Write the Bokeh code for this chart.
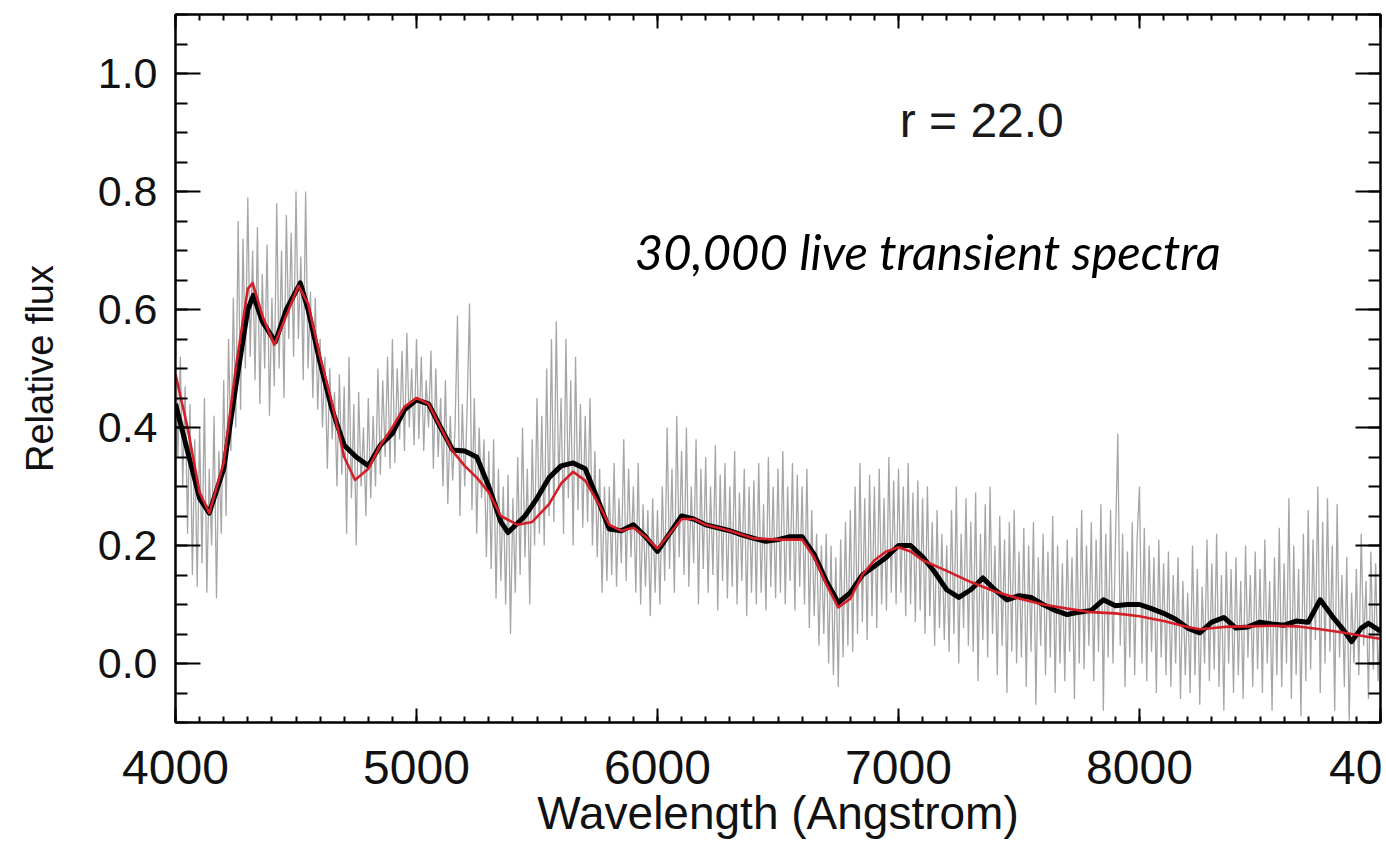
import numpy as np
from bokeh.plotting import figure
from bokeh.models import Range1d, LinearAxis, FixedTicker, Label, PrintfTickFormatter
from bokeh.embed import file_html
from bokeh.resources import INLINE

# ---- data -------------------------------------------------------------
# observed (noisy) spectrum, sampled every 10 Angstrom from 4000 to 9000
gray_start, gray_step = 4000, 10
gray_flux = [
    0.58, 0.35, 0.52, 0.30, 0.47, 0.22, 0.44, 0.15, 0.38, 0.13,   # 4000
    0.40, 0.17, 0.45, 0.12, 0.33, 0.20, 0.42, 0.11, 0.36, 0.22,   # 4100
    0.48, 0.25, 0.55, 0.36, 0.62, 0.40, 0.75, 0.43, 0.72, 0.50,   # 4200
    0.79, 0.52, 0.70, 0.48, 0.74, 0.44, 0.66, 0.50, 0.71, 0.42,   # 4300
    0.62, 0.47, 0.78, 0.50, 0.70, 0.45, 0.76, 0.55, 0.73, 0.52,   # 4400
    0.80, 0.55, 0.69, 0.48, 0.80, 0.50, 0.63, 0.45, 0.62, 0.43,   # 4500
    0.55, 0.40, 0.52, 0.33, 0.50, 0.38, 0.46, 0.30, 0.49, 0.32,   # 4600
    0.47, 0.22, 0.52, 0.28, 0.44, 0.20, 0.46, 0.30, 0.40, 0.25,   # 4700
    0.45, 0.28, 0.42, 0.30, 0.50, 0.32, 0.48, 0.35, 0.52, 0.33,   # 4800
    0.55, 0.34, 0.50, 0.38, 0.53, 0.36, 0.56, 0.40, 0.50, 0.37,   # 4900
    0.55, 0.38, 0.52, 0.36, 0.48, 0.40, 0.53, 0.33, 0.50, 0.35,   # 5000
    0.45, 0.30, 0.48, 0.27, 0.42, 0.31, 0.40, 0.59, 0.25, 0.44,   # 5100
    0.30, 0.43, 0.61, 0.26, 0.45, 0.22, 0.40, 0.28, 0.38, 0.18,   # 5200
    0.36, 0.16, 0.38, 0.11, 0.33, 0.14, 0.30, 0.10, 0.32, 0.05,   # 5300
    0.28, 0.12, 0.35, 0.15, 0.40, 0.18, 0.33, 0.10, 0.38, 0.20,   # 5400
    0.45, 0.22, 0.42, 0.20, 0.50, 0.25, 0.55, 0.24, 0.58, 0.30,   # 5500
    0.45, 0.22, 0.55, 0.28, 0.48, 0.20, 0.52, 0.26, 0.44, 0.23,   # 5600
    0.42, 0.24, 0.45, 0.20, 0.36, 0.18, 0.33, 0.12, 0.30, 0.14,   # 5700
    0.30, 0.15, 0.34, 0.13, 0.28, 0.17, 0.38, 0.14, 0.33, 0.18,   # 5800
    0.30, 0.12, 0.34, 0.10, 0.27, 0.13, 0.26, 0.08, 0.28, 0.12,   # 5900
    0.26, 0.10, 0.30, 0.14, 0.40, 0.16, 0.33, 0.12, 0.42, 0.18,   # 6000
    0.36, 0.15, 0.40, 0.13, 0.30, 0.17, 0.38, 0.10, 0.33, 0.16,   # 6100
    0.35, 0.12, 0.30, 0.15, 0.37, 0.09, 0.32, 0.14, 0.34, 0.11,   # 6200
    0.30, 0.13, 0.36, 0.10, 0.29, 0.14, 0.33, 0.08, 0.30, 0.12,   # 6300
    0.31, 0.10, 0.34, 0.12, 0.27, 0.09, 0.35, 0.13, 0.30, 0.11,   # 6400
    0.33, 0.12, 0.36, 0.10, 0.30, 0.14, 0.34, 0.09, 0.32, 0.13,   # 6500
    0.30, 0.10, 0.33, 0.06, 0.26, 0.08, 0.22, 0.03, 0.20, 0.05,   # 6600
    0.22, 0.00, 0.20, -0.02, 0.18, -0.04, 0.21, 0.01, 0.24, 0.03, # 6700
    0.26, 0.02, 0.30, 0.05, 0.34, 0.07, 0.28, 0.04, 0.32, 0.08,   # 6800
    0.30, 0.06, 0.33, 0.10, 0.28, 0.09, 0.35, 0.12, 0.31, 0.10,   # 6900
    0.33, 0.12, 0.30, 0.08, 0.34, 0.10, 0.29, 0.07, 0.31, 0.09,   # 7000
    0.28, 0.05, 0.30, 0.08, 0.24, 0.03, 0.26, 0.06, 0.22, 0.04,   # 7100
    0.20, 0.02, 0.26, 0.05, 0.30, 0.00, 0.22, 0.06, 0.28, 0.03,   # 7200
    0.24, 0.02, 0.29, -0.03, 0.22, 0.04, 0.27, 0.01, 0.30, 0.05,  # 7300
    0.20, -0.02, 0.25, 0.03, 0.21, -0.05, 0.24, 0.02, 0.26, 0.00, # 7400
    0.19, 0.01, 0.23, -0.04, 0.20, 0.02, 0.24, -0.07, 0.18, 0.03, # 7500
    0.22, -0.02, 0.19, 0.01, 0.25, -0.05, 0.20, 0.00, 0.17, -0.03,  # 7600
    0.21, 0.02, 0.18, -0.06, 0.23, 0.00, 0.26, -0.01, 0.20, 0.03,   # 7700
    0.24, -0.03, 0.21, 0.02, 0.27, -0.08, 0.22, 0.01, 0.26, 0.00,   # 7800
    0.20, 0.39, 0.03, 0.22, -0.04, 0.19, 0.01, 0.24, -0.02, 0.21,   # 7900
    0.30, 0.00, 0.23, -0.03, 0.20, 0.02, 0.18, -0.05, 0.21, 0.01,   # 8000
    0.17, -0.02, 0.19, -0.04, 0.15, 0.00, 0.18, -0.06, 0.14, -0.02, # 8100
    0.12, -0.05, 0.20, -0.02, 0.16, -0.07, 0.13, 0.00, 0.21, -0.03, # 8200
    0.17, -0.01, 0.22, -0.04, 0.15, -0.08, 0.19, 0.00, 0.16, -0.05, # 8300
    0.18, -0.02, 0.14, -0.06, 0.20, 0.01, 0.15, -0.04, 0.19, -0.01, # 8400
    0.16, -0.05, 0.21, 0.00, 0.14, -0.08, 0.18, -0.02, 0.23, -0.04, # 8500
    0.17, 0.00, 0.28, -0.06, 0.20, -0.02, 0.16, -0.09, 0.22, -0.03, # 8600
    0.26, -0.01, 0.21, 0.04, 0.30, -0.05, 0.24, 0.00, 0.28, 0.02,   # 8700
    0.20, -0.08, 0.27, 0.01, 0.15, -0.04, 0.18, -0.10, 0.12, 0.00,  # 8800
    0.16, -0.02, 0.22, 0.03, 0.14, -0.06, 0.19, -0.01, 0.17, -0.03, # 8900
    0.10,                                                           # 9000
]
gray_wave = [gray_start + gray_step * i for i in range(len(gray_flux))]

# smoothed spectrum (black)
black_wave = [4000, 4050, 4100, 4140, 4200, 4250, 4300, 4323, 4360, 4414, 4460, 4518,
              4550, 4600, 4650, 4700, 4750, 4800, 4850, 4900, 4950, 5000, 5050, 5100,
              5150, 5200, 5250, 5300, 5350, 5380, 5450, 5500, 5550, 5600, 5650, 5700,
              5750, 5800, 5850, 5900, 5950, 6000, 6050, 6100, 6150, 6200, 6250, 6300,
              6350, 6400, 6450, 6500, 6550, 6600, 6650, 6700, 6750, 6800, 6850, 6900,
              6950, 7000, 7050, 7100, 7150, 7200, 7250, 7300, 7350, 7400, 7450, 7500,
              7550, 7600, 7650, 7700, 7750, 7800, 7850, 7900, 7950, 8000, 8050, 8100,
              8150, 8200, 8250, 8300, 8350, 8400, 8450, 8500, 8550, 8600, 8650, 8700,
              8750, 8800, 8850, 8880, 8920, 8950, 9000]
black_flux = [0.44, 0.36, 0.28, 0.255, 0.33, 0.47, 0.60, 0.624, 0.58, 0.545, 0.60, 0.645,
              0.60, 0.51, 0.43, 0.37, 0.35, 0.335, 0.37, 0.39, 0.43, 0.447, 0.44, 0.40,
              0.362, 0.36, 0.35, 0.30, 0.24, 0.222, 0.25, 0.28, 0.315, 0.335, 0.34, 0.33,
              0.28, 0.228, 0.225, 0.235, 0.215, 0.19, 0.22, 0.25, 0.245, 0.235, 0.23, 0.225,
              0.218, 0.212, 0.207, 0.21, 0.215, 0.215, 0.185, 0.14, 0.103, 0.12, 0.15, 0.165,
              0.18, 0.20, 0.20, 0.181, 0.155, 0.125, 0.112, 0.125, 0.145, 0.125, 0.108, 0.115,
              0.112, 0.10, 0.09, 0.083, 0.087, 0.09, 0.108, 0.098, 0.10, 0.10, 0.093, 0.085,
              0.075, 0.06, 0.052, 0.07, 0.078, 0.06, 0.062, 0.07, 0.067, 0.065, 0.072, 0.07,
              0.108, 0.08, 0.055, 0.037, 0.06, 0.068, 0.055]

# template fit (red)
red_wave = [4000, 4050, 4100, 4140, 4200, 4250, 4300, 4320, 4360, 4410, 4460, 4510,
            4550, 4600, 4650, 4700, 4745, 4800, 4850, 4900, 4950, 5000, 5050, 5100,
            5150, 5200, 5250, 5300, 5350, 5420, 5480, 5550, 5600, 5650, 5700, 5750,
            5800, 5850, 5900, 5950, 6000, 6050, 6100, 6150, 6200, 6300, 6400, 6500,
            6600, 6650, 6700, 6750, 6800, 6850, 6900, 6950, 7000, 7050, 7100, 7200,
            7300, 7400, 7500, 7600, 7700, 7800, 7900, 8000, 8100, 8200, 8250, 8350,
            8450, 8550, 8650, 8750, 8850, 8950, 9000]
red_flux = [0.49, 0.40, 0.29, 0.255, 0.34, 0.50, 0.635, 0.645, 0.59, 0.54, 0.59, 0.64,
            0.61, 0.52, 0.44, 0.35, 0.311, 0.33, 0.37, 0.40, 0.435, 0.45, 0.44, 0.40,
            0.36, 0.335, 0.315, 0.29, 0.25, 0.235, 0.24, 0.27, 0.305, 0.325, 0.31, 0.275,
            0.235, 0.225, 0.23, 0.215, 0.195, 0.22, 0.245, 0.245, 0.235, 0.225, 0.212, 0.21,
            0.21, 0.18, 0.135, 0.095, 0.11, 0.15, 0.175, 0.19, 0.197, 0.19, 0.175, 0.157,
            0.138, 0.122, 0.11, 0.10, 0.093, 0.087, 0.085, 0.08, 0.072, 0.062, 0.058, 0.062,
            0.063, 0.064, 0.063, 0.058, 0.052, 0.045, 0.042]

x_major = [4000, 5000, 6000, 7000, 8000, 9000]
x_minor = list(range(4000, 9001, 100))
y_major = [0.0, 0.2, 0.4, 0.6, 0.8, 1.0]
y_minor = [round(-0.1 + 0.05 * i, 2) for i in range(25)]
x_label_overrides = {9000: "40"}

x_title = "Wavelength (Angstrom)"
y_title = "Relative flux"
annot_mag = "r = 22.0"
annot_note = "30,000 live transient spectra"

# ---- figure -----------------------------------------------------------
FONT = "Liberation Sans"
p = figure(width=1382, height=845,
           x_range=Range1d(4000, 9000), y_range=Range1d(-0.1, 1.1),
           output_backend="svg", toolbar_location=None,
           min_border_left=175, min_border_right=2, min_border_top=14, min_border_bottom=123)
p.grid.visible = False
p.outline_line_color = "black"
p.outline_line_width = 2
p.background_fill_color = "white"
p.border_fill_color = "white"

p.line(gray_wave, gray_flux, line_color="#a6a6a6", line_width=1.3)
p.line(black_wave, black_flux, line_color="black", line_width=5, line_join="round")
p.line(red_wave, red_flux, line_color="#d41f28", line_width=2.6, line_join="round")

xt = FixedTicker(ticks=x_major, minor_ticks=x_minor)
yt = FixedTicker(ticks=y_major, minor_ticks=y_minor)

xa = p.xaxis[0]
xa.ticker = xt
xa.major_label_overrides = x_label_overrides
xa.axis_label = x_title
xa.axis_label_text_font = FONT
xa.axis_label_text_font_size = "46px"
xa.axis_label_text_font_style = "normal"
xa.axis_label_text_color = "#111111"
xa.axis_label_standoff = 0
xa.major_label_text_font = FONT
xa.major_label_text_font_size = "48px"
xa.major_label_text_color = "#111111"
xa.major_label_standoff = 28
xa.major_tick_in = 14
xa.major_tick_out = 0
xa.minor_tick_in = 6
xa.minor_tick_out = 0
xa.axis_line_width = 2
xa.major_tick_line_width = 2
xa.minor_tick_line_width = 2

ya = p.yaxis[0]
ya.ticker = yt
ya.formatter = PrintfTickFormatter(format="%.1f")
ya.axis_label = y_title
ya.axis_label_text_font = FONT
ya.axis_label_text_font_size = "38px"
ya.axis_label_text_font_style = "normal"
ya.axis_label_text_color = "#111111"
ya.axis_label_standoff = 34
ya.major_label_text_font = FONT
ya.major_label_text_font_size = "43px"
ya.major_label_text_color = "#111111"
ya.major_label_standoff = 18
ya.major_tick_in = 25
ya.major_tick_out = 0
ya.minor_tick_in = 12
ya.minor_tick_out = 0
ya.axis_line_width = 2
ya.major_tick_line_width = 2
ya.minor_tick_line_width = 2

top = LinearAxis(ticker=xt, major_tick_in=14, major_tick_out=0, minor_tick_in=6, minor_tick_out=0,
                 major_label_text_font_size="1px", major_label_text_color=None, major_label_standoff=0,
                 axis_line_width=2, major_tick_line_width=2, minor_tick_line_width=2)
right = LinearAxis(ticker=yt, major_tick_in=25, major_tick_out=0, minor_tick_in=12, minor_tick_out=0,
                   major_label_text_font_size="1px", major_label_text_color=None, major_label_standoff=0,
                   axis_line_width=2, major_tick_line_width=2, minor_tick_line_width=2)
p.add_layout(top, "above")
p.add_layout(right, "right")

p.add_layout(Label(x=7005, y=0.921, text=annot_mag, text_font=FONT, text_font_size="48px",
                   text_color="#1a1a1a", text_baseline="alphabetic"))
p.add_layout(Label(x=5906, y=0.70, text=annot_note, text_font="Lato", text_font_style="italic",
                   text_font_size="49px", text_color="black", text_baseline="alphabetic"))

open("out.html", "w").write(file_html(p, INLINE))
